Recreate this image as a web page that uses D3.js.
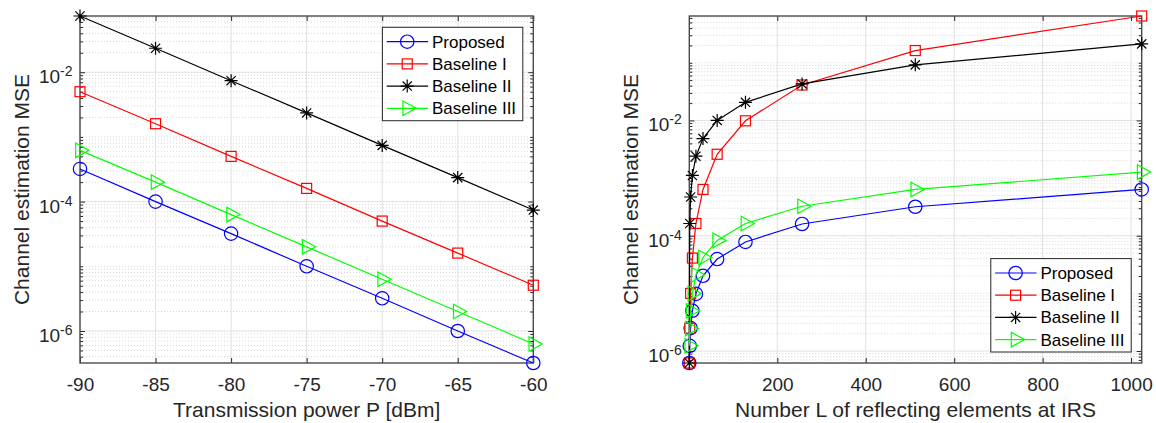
<!DOCTYPE html>
<html>
<head>
<meta charset="utf-8">
<script src="https://cdn.jsdelivr.net/npm/d3@7"></script>
<style>
  body { margin: 0; background: #fff; }
  svg { font-family: "Liberation Sans", Arial, Helvetica, sans-serif; }
  .grid-major { stroke: #e0e0e0; stroke-width: 1; }
  .grid-minor { stroke: #cdcdcd; stroke-width: 0.8; stroke-dasharray: 1,2; }
  .tick line { stroke: #262626; }
  .tick text { fill: #262626; }
</style>
</head>
<body>
<div id="chart"></div>
<script>
// series shared by both panels
var seriesNames = ["Proposed", "Baseline I", "Baseline II", "Baseline III"];
var seriesColors = ["#0000ff", "#ff0000", "#000000", "#00ff00"];
var seriesMarkers = ["circle", "square", "star", "triangle"];

// left panel: MSE vs transmission power
var powerDbm = [-90, -85, -80, -75, -70, -65, -60];
var powerProposed = [3.2e-4, 1.0e-4, 3.2e-5, 1.0e-5, 3.2e-6, 1.0e-6, 3.2e-7];
var powerBaseline1 = [5.0e-3, 1.6e-3, 5.0e-4, 1.6e-4, 5.0e-5, 1.6e-5, 5.1e-6];
var powerBaseline2 = [7.4e-2, 2.35e-2, 7.4e-3, 2.35e-3, 7.4e-4, 2.35e-4, 7.4e-5];
var powerBaseline3 = [6.2e-4, 2.0e-4, 6.3e-5, 2.0e-5, 6.3e-6, 2.0e-6, 6.3e-7];
var powerTicks = [-90, -85, -80, -75, -70, -65, -60];

// right panel: MSE vs number of IRS elements
var numElements = [1, 2, 4, 8, 16, 32, 64, 128, 256, 512, 1024];
var elemProposed = [6.2e-7, 1.23e-6, 2.5e-6, 5.0e-6, 9.8e-6, 2.02e-5, 3.94e-5, 7.8e-5, 1.6e-4, 3.18e-4, 6.35e-4];
var elemBaseline1 = [6.2e-7, 2.48e-6, 1.0e-5, 4.1e-5, 1.63e-4, 6.35e-4, 2.59e-3, 9.85e-3, 4.12e-2, 0.163, 0.648];
var elemBaseline2 = [6.2e-7, 1.63e-4, 4.7e-4, 1.11e-3, 2.4e-3, 4.85e-3, 1.0e-2, 2.06e-2, 4.3e-2, 9.2e-2, 0.213];
var elemBaseline3 = [1.23e-6, 2.45e-6, 5.0e-6, 1.0e-5, 2.1e-5, 4.2e-5, 8.3e-5, 1.63e-4, 3.25e-4, 6.35e-4, 1.27e-3];
var elemTicks = [200, 400, 600, 800, 1000];

var mseTicks = [1e-2, 1e-4, 1e-6];

var width = 1156;
var height = 423;

var svg = d3.select("div#chart")
  .append("svg")
  .attr("width", width)
  .attr("height", height)
  .style("background", "#fff");

function drawMarker(g, type, color, cx, cy) {
  var m = g.append("g")
    .attr("transform", "translate(" + cx + "," + cy + ")")
    .style("fill", "none")
    .style("stroke", color)
    .style("stroke-width", 1.2);
  if (type === "circle") {
    m.append("circle").attr("r", 6.7);
  } else if (type === "square") {
    m.append("rect").attr("x", -5).attr("y", -5).attr("width", 10).attr("height", 10);
  } else if (type === "star") {
    m.append("path").attr("d", "M0,-6.5V6.5M-6.5,0H6.5M-4.6,-4.6L4.6,4.6M-4.6,4.6L4.6,-4.6");
  } else {
    m.append("path").attr("d", "M-4.3,-7.3L9,0L-4.3,7.3Z");
  }
}

// "10" with superscripted exponent, like MATLAB's log tick labels
function powerLabels(sel) {
  sel.selectAll(".tick text").each(function (d) {
    var t = d3.select(this);
    var e = Math.round(Math.log10(d));
    t.text(null).attr("dy", 10.5);
    t.append("tspan").text("10");
    t.append("tspan").attr("dy", -7).style("font-size", "14px").text(String(e));
  });
}

function styleAxis(sel) {
  sel.select(".domain").remove();
  sel.selectAll(".tick text").style("font-size", "19px");
}

function drawPanel(box, xValues, xTicks, ys, xLabel, legendAtTop) {
  var x = d3.scaleLinear().domain(d3.extent(xValues)).range([box.left, box.right]);
  var y = d3.scaleLog().domain(d3.extent(d3.merge(ys))).range([box.bottom, box.top]);
  var g = svg.append("g");

  // minor values k*10^e inside the domain
  var minor = [];
  for (var e = -9; e <= 1; e++) {
    for (var k = 1; k <= 9; k++) {
      var v = k * Math.pow(10, e);
      var isMajor = k === 1 && mseTicks.some(function (t) { return Math.abs(Math.log10(t) - e) < 1e-9; });
      if (!isMajor && v >= y.domain()[0] && v <= y.domain()[1]) minor.push(v);
    }
  }

  // grid
  g.selectAll(".grid-minor").data(minor).enter().append("line")
    .attr("class", "grid-minor")
    .attr("x1", box.left).attr("x2", box.right)
    .attr("y1", function (d) { return y(d); })
    .attr("y2", function (d) { return y(d); });
  g.selectAll(".grid-y").data(mseTicks).enter().append("line")
    .attr("class", "grid-major")
    .attr("x1", box.left).attr("x2", box.right)
    .attr("y1", function (d) { return y(d); })
    .attr("y2", function (d) { return y(d); });
  g.selectAll(".grid-x").data(xTicks).enter().append("line")
    .attr("class", "grid-major")
    .attr("y1", box.top).attr("y2", box.bottom)
    .attr("x1", function (d) { return x(d); })
    .attr("x2", function (d) { return x(d); });

  // ticks pointing inward on all four sides
  g.append("g")
    .attr("transform", "translate(0," + box.bottom + ")")
    .call(d3.axisBottom(x).tickValues(xTicks).tickSizeInner(-5).tickSizeOuter(0)
      .tickPadding(15).tickFormat(function (d) { return String(d); }))
    .call(styleAxis);
  g.append("g")
    .attr("transform", "translate(0," + box.top + ")")
    .call(d3.axisTop(x).tickValues(xTicks).tickSizeInner(-5).tickSizeOuter(0).tickFormat(""))
    .call(styleAxis);
  g.append("g")
    .attr("transform", "translate(" + box.left + ",0)")
    .call(d3.axisLeft(y).tickValues(mseTicks).tickSizeInner(-5).tickSizeOuter(0).tickPadding(7.5))
    .call(styleAxis)
    .call(powerLabels);
  g.append("g")
    .attr("transform", "translate(" + box.left + ",0)")
    .call(d3.axisLeft(y).tickValues(minor).tickSizeInner(-3).tickSizeOuter(0).tickFormat(""))
    .call(styleAxis);
  g.append("g")
    .attr("transform", "translate(" + box.right + ",0)")
    .call(d3.axisRight(y).tickValues(mseTicks).tickSizeInner(-5).tickSizeOuter(0).tickFormat(""))
    .call(styleAxis);
  g.append("g")
    .attr("transform", "translate(" + box.right + ",0)")
    .call(d3.axisRight(y).tickValues(minor).tickSizeInner(-3).tickSizeOuter(0).tickFormat(""))
    .call(styleAxis);

  g.append("rect")
    .attr("x", box.left).attr("y", box.top)
    .attr("width", box.right - box.left).attr("height", box.bottom - box.top)
    .style("fill", "none")
    .style("stroke", "#4a4a4a")
    .style("stroke-width", 1.4);

  // axis labels
  g.append("text")
    .attr("x", (box.left + box.right) / 2)
    .attr("y", 417)
    .attr("text-anchor", "middle")
    .style("font-size", "21px")
    .style("fill", "#262626")
    .text(xLabel);
  g.append("text")
    .attr("transform", "translate(" + (box.left - 51.5) + "," + (box.top + box.bottom) / 2 + ") rotate(-90)")
    .attr("text-anchor", "middle")
    .style("font-size", "21px")
    .style("fill", "#262626")
    .text("Channel estimation MSE");

  // series
  var line = d3.line();
  ys.forEach(function (vals, i) {
    var pts = xValues.map(function (xv, j) { return [x(xv), y(vals[j])]; });
    g.append("path")
      .attr("d", line(pts))
      .style("fill", "none")
      .style("stroke", seriesColors[i])
      .style("stroke-width", 1.2);
    pts.forEach(function (p) { drawMarker(g, seriesMarkers[i], seriesColors[i], p[0], p[1]); });
  });

  // legend
  var lw = 140.4, lh = 93.4;
  var lx = box.right - 10.5 - lw;
  var ly = legendAtTop ? box.top + 11.3 : box.bottom - 11 - lh;
  var legend = g.append("g").attr("transform", "translate(" + lx + "," + ly + ")");
  legend.append("rect")
    .attr("width", lw).attr("height", lh)
    .style("fill", "#fff")
    .style("stroke", "#262626")
    .style("stroke-width", 1);
  seriesNames.forEach(function (name, i) {
    var ry = 14.4 + i * 22.2;
    legend.append("line")
      .attr("x1", 4.3).attr("x2", 45.7).attr("y1", ry).attr("y2", ry)
      .style("stroke", seriesColors[i])
      .style("stroke-width", 1.2);
    drawMarker(legend, seriesMarkers[i], seriesColors[i], 24.8, ry);
    legend.append("text")
      .attr("x", 49.6).attr("y", ry + 6)
      .style("font-size", "17px")
      .style("fill", "#000")
      .text(name);
  });
}

drawPanel({ left: 80, right: 533.3, top: 16, bottom: 363 },
  powerDbm, powerTicks,
  [powerProposed, powerBaseline1, powerBaseline2, powerBaseline3],
  "Transmission power P [dBm]", true);

drawPanel({ left: 689.3, right: 1141.7, top: 16, bottom: 363 },
  numElements, elemTicks,
  [elemProposed, elemBaseline1, elemBaseline2, elemBaseline3],
  "Number L of reflecting elements at IRS", false);
</script>
</body>
</html>
